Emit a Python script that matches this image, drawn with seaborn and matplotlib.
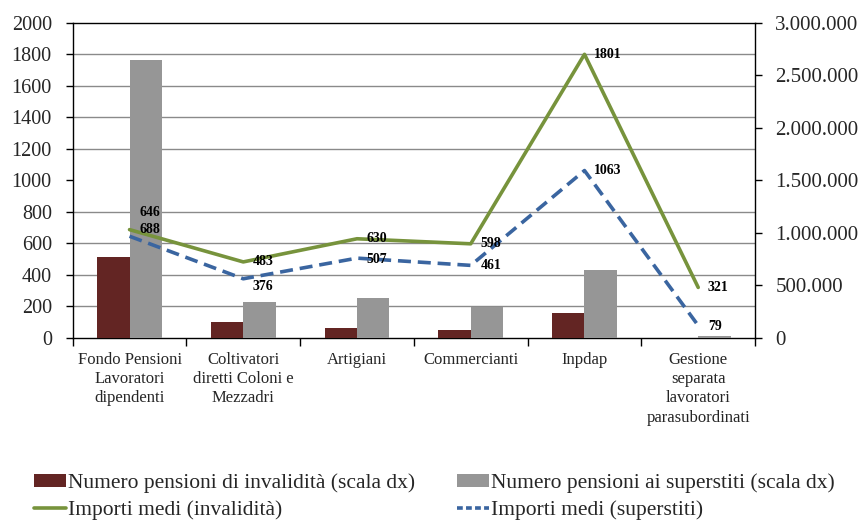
import numpy as np
import pandas as pd
import matplotlib
matplotlib.use("Agg")
import matplotlib.pyplot as plt
from matplotlib.ticker import FuncFormatter, MultipleLocator, FixedLocator
from matplotlib.patches import Patch
from matplotlib.lines import Line2D
import seaborn as sns

# --- data ---------------------------------------------------------------
categories = [
    "Fondo Pensioni\nLavoratori\ndipendenti",
    "Coltivatori\ndiretti Coloni e\nMezzadri",
    "Artigiani",
    "Commercianti",
    "Inpdap",
    "Gestione\nseparata\nlavoratori\nparasubordinati",
]
num_invalidita = [771000, 152000, 98000, 73000, 235000, 3000]
num_superstiti = [2648000, 343000, 384000, 295000, 645000, 22000]
importi_invalidita = [688, 483, 630, 598, 1801, 321]
importi_superstiti = [646, 376, 507, 461, 1063, 79]

lbl_bar_inv = "Numero pensioni di invalidità (scala dx)"
lbl_bar_sup = "Numero pensioni ai superstiti (scala dx)"
lbl_line_inv = "Importi medi (invalidità)"
lbl_line_sup = "Importi medi (superstiti)"

# --- style --------------------------------------------------------------
sns.set_style("white")
plt.rcParams["font.family"] = ["Liberation Serif", "DejaVu Serif"]

c_red = "#632523"
c_gray = "#969696"
c_green = "#77933C"
c_blue = "#3A65A0"
c_grid = "#8a8a8a"

fig = plt.figure(figsize=(8.6, 5.22), dpi=100)
ax_bar = fig.add_axes([0.0845, 0.3525, 0.7935, 0.6035])

bars = pd.DataFrame({
    "categoria": categories * 2,
    "serie": [lbl_bar_inv] * len(categories) + [lbl_bar_sup] * len(categories),
    "valore": num_invalidita + num_superstiti,
})
sns.barplot(data=bars, x="categoria", y="valore", hue="serie", order=categories,
            hue_order=[lbl_bar_inv, lbl_bar_sup],
            palette={lbl_bar_inv: c_red, lbl_bar_sup: c_gray},
            width=0.57, gap=0, saturation=1, legend=False, ax=ax_bar,
            edgecolor="none", zorder=3)

pos = np.arange(len(categories))

# --- lines on the left scale ---------------------------------------------
ax_line = ax_bar.twinx()
sns.lineplot(x=pos, y=importi_invalidita, ax=ax_line, color=c_green,
             linewidth=2.6, label=lbl_line_inv, legend=False)
sns.lineplot(x=pos, y=importi_superstiti, ax=ax_line, color=c_blue,
             linewidth=2.6, label=lbl_line_sup, legend=False)
ax_line.lines[1].set_dashes((3.6, 1.9))
ax_line.set_ylim(0, 2000)
ax_line.yaxis.tick_left()
ax_line.yaxis.set_label_position("left")
ax_line.yaxis.set_major_locator(MultipleLocator(200))
ax_line.tick_params(axis="y", direction="out", length=5, width=1, color="black",
                    labelsize=14.5, pad=10, left=True, right=False,
                    labelleft=True, labelright=False)
for side in ["left", "right", "top", "bottom"]:
    ax_line.spines[side].set_visible(False)
ax_line.grid(False)
ax_line.set_xlim(-0.5, len(categories) - 0.5)

# --- bar axis: right scale ------------------------------------------------
ax_bar.set_ylim(0, 3000000)
ax_bar.set_xlim(-0.5, len(categories) - 0.5)
ax_bar.yaxis.tick_right()
ax_bar.yaxis.set_major_locator(MultipleLocator(500000))
ax_bar.yaxis.set_major_formatter(
    FuncFormatter(lambda v, p: f"{int(round(v)):,}".replace(",", ".")))
# horizontal grid follows the left scale (every 200 = 300.000 on the right)
ax_bar.yaxis.set_minor_locator(MultipleLocator(300000))
ax_bar.grid(True, which="minor", axis="y", color=c_grid, linewidth=1.0, zorder=0)
ax_bar.grid(False, which="major")
ax_bar.tick_params(axis="y", which="minor", length=0, left=False, right=False)
ax_bar.tick_params(axis="y", which="major", direction="out", length=5, width=1,
                   color="black", labelsize=15, pad=9.5, right=True, left=False,
                   labelright=True, labelleft=False)
ax_bar.set_xlabel("")
ax_bar.set_ylabel("")

# category ticks at the group boundaries, names centred below each group
ax_bar.xaxis.set_major_locator(FixedLocator(np.arange(len(categories) + 1) - 0.5))
ax_bar.xaxis.set_minor_locator(FixedLocator(pos))
ax_bar.set_xticklabels([], minor=False)
ax_bar.set_xticklabels(categories, minor=True, fontsize=12, linespacing=1.27)
ax_bar.tick_params(axis="x", which="major", direction="out", length=6, width=1,
                   color="black", bottom=True)
ax_bar.tick_params(axis="x", which="minor", length=0, pad=10)

for side in ["left", "right", "bottom", "top"]:
    ax_bar.spines[side].set_visible(True)
    ax_bar.spines[side].set_color("black")
    ax_bar.spines[side].set_linewidth(1.0)

# value labels next to each point
lab_kw = dict(textcoords="offset points", fontsize=10, fontweight="bold",
              ha="left", va="center", color="black")
for i, v in enumerate(importi_invalidita):
    ax_line.annotate(str(v), (pos[i], v), xytext=(7, 0), **lab_kw)
sup_offsets = [(7, 17), (7, -5.5), (7, -1), (7, 0), (7, 0), (7, -1)]
for i, v in enumerate(importi_superstiti):
    ax_line.annotate(str(v), (pos[i], v), xytext=sup_offsets[i], **lab_kw)

# --- legend -------------------------------------------------------------
handles = [
    Patch(facecolor=c_red, edgecolor="none"),
    Line2D([], [], color=c_green, linewidth=2.6),
    Patch(facecolor=c_gray, edgecolor="none"),
    Line2D([], [], color=c_blue, linewidth=2.6, dashes=(1.6, 0.9)),
]
labels = [lbl_bar_inv, lbl_line_inv, lbl_bar_sup, lbl_line_sup]
fig.legend(handles, labels, ncol=2, loc="upper left",
           bbox_to_anchor=(0.04, 0.094), bbox_transform=fig.transFigure,
           frameon=False, fontsize=15.5, handlelength=1.45, handleheight=0.56,
           handletextpad=0.12, columnspacing=1.95, labelspacing=0.36,
           borderaxespad=0, borderpad=0)

fig.savefig("out.png", dpi=100)
